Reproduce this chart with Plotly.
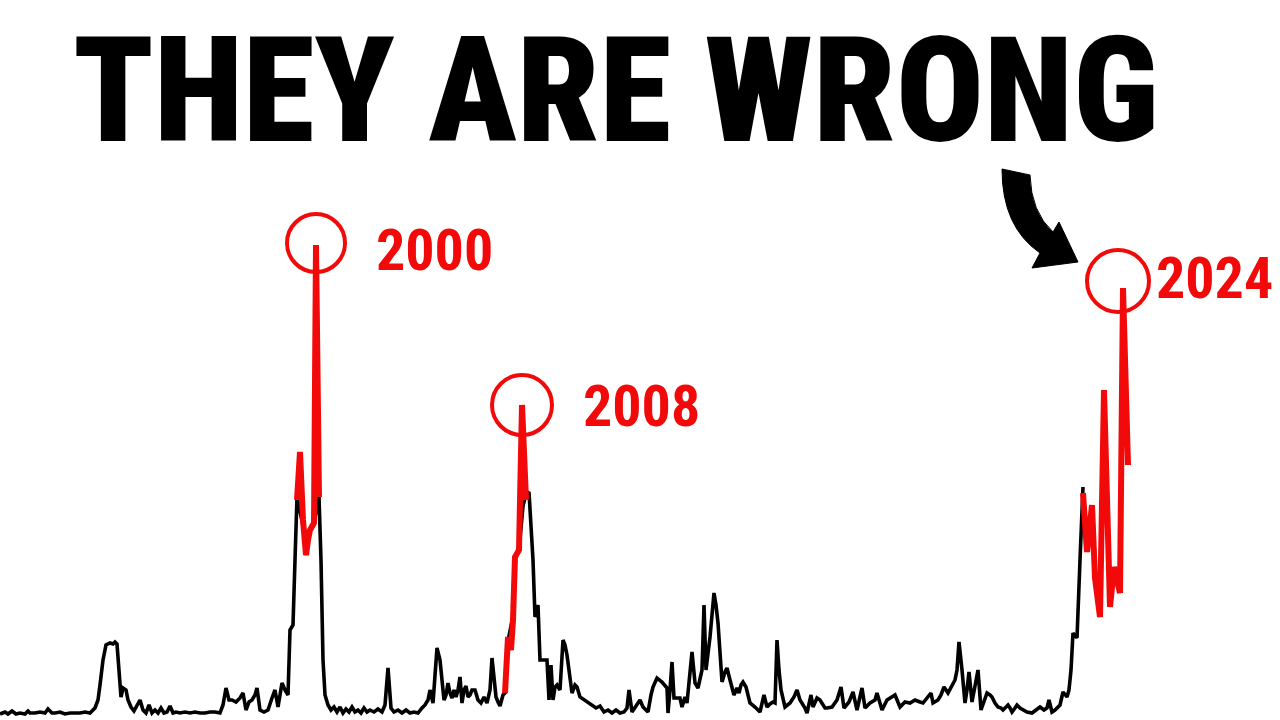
import plotly.graph_objects as go

# ---- data (period index, level) ----
black_t = [0, 5, 8, 12, 16, 20, 25, 28, 30, 35, 40, 45, 48, 52, 55, 60, 65, 70, 75, 80, 85, 90, 95, 98,
           100, 103, 106, 110, 113, 115, 117, 119, 121, 123, 126, 128, 131, 134, 137, 140, 143, 146, 149,
           152, 155, 158, 161, 164, 167, 170, 173, 176, 180, 185, 190, 195, 200, 205, 210, 215, 220, 223,
           226, 229, 232, 236, 240, 243, 246, 249, 252, 255, 257, 260, 264, 268, 272, 275, 278, 282, 285,
           288, 290, 293, 295, 297, 303, 306, 310, 314, 319, 321, 323, 325, 328, 331, 334, 337, 340, 343,
           346, 349, 352, 355, 358, 361, 364, 367, 370, 374, 378, 382, 385, 388, 391, 394, 398, 402, 406,
           410, 414, 418, 422, 425, 428, 430, 433, 435, 437, 440, 442, 444, 446, 448, 450, 452, 454, 456,
           458, 460, 462, 464, 466, 468, 470, 472, 475, 478, 481, 484, 487, 490, 492, 494, 496, 498, 500,
           503, 505, 508, 513, 515, 519, 523, 526, 529, 533, 535, 538, 540, 544, 547, 549, 551, 553, 555,
           557, 560, 563, 565, 567, 570, 572, 575, 577, 580, 584, 588, 592, 596, 600, 604, 608, 612, 616,
           620, 624, 627, 629, 632, 636, 640, 643, 646, 648, 651, 653, 657, 662, 667, 668, 670, 672, 674,
           678, 680, 682, 685, 687, 690, 692, 695, 698, 702, 704, 706, 708, 710, 714, 716, 718, 720, 722,
           725, 727, 730, 734, 737, 739, 741, 743, 746, 750, 755, 760, 764, 767, 770, 773, 775, 777, 779,
           781, 785, 790, 794, 797, 800, 802, 805, 807, 811, 813, 817, 820, 822, 825, 827, 832, 837, 841,
           844, 847, 849, 853, 857, 862, 865, 870, 875, 877, 882, 887, 890, 895, 900, 905, 910, 915, 920,
           923, 927, 931, 933, 938, 941, 944, 948, 952, 955, 957, 959, 962, 965, 967, 969, 972, 975, 978,
           981, 984, 987, 990, 992, 995, 998, 1001, 1003, 1006, 1008, 1010, 1012, 1015, 1017, 1020, 1023,
           1027, 1032, 1036, 1040, 1044, 1047, 1049, 1052, 1055, 1057, 1060, 1063, 1065, 1067, 1069, 1071,
           1073, 1075, 1077, 1080, 1083]
black_v = [2, 4, 2, 5, 2, 3, 2, 5, 3, 3, 4, 3, 7, 3, 3, 4, 2, 3, 3, 3, 4, 3, 8, 16,
           31, 56, 71, 73, 72, 74, 72, 46, 19, 28, 26, 16, 9, 5, 11, 16, 6, 3, 11,
           3, 6, 3, 8, 3, 4, 10, 3, 4, 3, 4, 3, 4, 3, 3, 4, 4, 3, 11,
           28, 16, 16, 14, 18, 23, 6, 14, 16, 21, 28, 6, 4, 6, 18, 26, 9, 33, 26,
           21, 86, 91, 156, 219, 190, 161, 186, 193, 219, 156, 56, 21, 11, 6, 9, 4, 9, 3,
           7, 4, 9, 4, 6, 3, 8, 4, 6, 4, 7, 4, 11, 48, 8, 4, 6, 3, 6,
           3, 4, 3, 8, 11, 16, 26, 13, 46, 68, 56, 36, 16, 21, 33, 23, 18, 26, 19,
           26, 39, 13, 26, 30, 19, 21, 26, 26, 16, 13, 19, 13, 26, 58, 41, 19, 14, 10,
           21, 23, 75, 100, 159, 166, 210, 222, 224, 156, 99, 111, 56, 56, 56, 16, 51, 16, 29,
           31, 26, 76, 71, 61, 36, 23, 31, 29, 19, 16, 13, 11, 8, 10, 4, 6, 3, 6,
           3, 4, 8, 26, 4, 10, 16, 9, 6, 4, 21, 29, 38, 34, 28, 3, 26, 54, 18,
           18, 18, 9, 19, 13, 46, 64, 33, 28, 46, 111, 46, 61, 79, 123, 111, 93, 66, 34,
           44, 48, 36, 21, 28, 23, 31, 34, 29, 13, 9, 4, 21, 9, 12, 14, 13, 76, 46,
           26, 9, 13, 19, 26, 16, 13, 8, 3, 21, 9, 18, 16, 13, 8, 8, 9, 16, 29,
           8, 11, 14, 24, 6, 28, 8, 13, 16, 23, 6, 16, 18, 21, 9, 14, 13, 16, 14,
           13, 18, 23, 13, 16, 21, 29, 23, 31, 36, 46, 74, 46, 13, 26, 44, 14, 31, 46,
           6, 16, 23, 21, 19, 13, 9, 8, 6, 9, 11, 8, 4, 8, 11, 8, 6,
           4, 3, 6, 9, 6, 8, 16, 4, 6, 8, 11, 24, 21, 19, 26, 46,
           83, 81, 78, 156, 229]

red2000_t = [297, 300, 303, 306, 308, 310, 314, 316, 319]
red2000_v = [216, 264, 196, 161, 176, 186, 193, 471, 219]

red2008_t = [505, 508, 511, 513, 515, 519, 522, 526]
red2008_v = [23, 79, 66, 96, 159, 166, 311, 216]

red2024_t = [1083, 1087, 1092, 1095, 1100, 1104, 1110, 1114, 1120, 1123, 1128]
red2024_v = [223, 164, 211, 138, 99, 326, 109, 149, 123, 428, 251]

labels = ["2000", "2008", "2024"]
title_text = "THEY ARE WRONG"

RED = "#f20a0a"
W, H = 1280, 720
FONT = "Roboto Condensed, Roboto, sans-serif"

fig = go.Figure()
fig.add_trace(go.Scatter(x=black_t, y=black_v, mode="lines",
                         line=dict(color="black", width=3.6), hoverinfo="skip"))

reds = [(red2000_t, red2000_v), (red2008_t, red2008_v), (red2024_t, red2024_v)]
for t, v in reds:
    fig.add_trace(go.Scatter(x=t, y=v, mode="lines",
                             line=dict(color=RED, width=6), hoverinfo="skip"))

# circle offsets (pixels relative to peak) and label shifts
circ = [(0, 2, 29), (0, 0, 30), (-5, 7, 31)]
lab_shift = [(58, -5), (59, -1), (31, 10)]
shapes = []
annotations = []
for (t, v), (dx, dy, r), (lx, ly), lab in zip(reds, circ, lab_shift, labels):
    i = v.index(max(v))
    shapes.append(dict(type="circle", xref="x", yref="y", xsizemode="pixel", ysizemode="pixel",
                       xanchor=t[i], yanchor=v[i], x0=dx - r, x1=dx + r, y0=dy - r, y1=dy + r,
                       line=dict(color=RED, width=4)))
    annotations.append(dict(x=t[i], y=v[i], xref="x", yref="y", text=lab, showarrow=False,
                            xanchor="left", yanchor="middle", xshift=lx, yshift=ly,
                            font=dict(family=FONT, size=58, color=RED, weight="bold")))

annotations.append(dict(x=616 / W, y=1 - 91 / H, xref="paper", yref="paper", text=title_text,
                        showarrow=False, xanchor="center", yanchor="middle",
                        font=dict(family=FONT, size=146, color="black", weight=900)))


def p(px, py):
    return f"{px / W:.5f},{1 - py / H:.5f}"


arrow = ("M " + p(1002, 169) + " Q " + p(1002, 227) + " " + p(1040, 253) +
         " L " + p(1032, 268) + " L " + p(1078, 262) + " L " + p(1059, 222) +
         " L " + p(1053, 232) + " Q " + p(1031, 212) + " " + p(1030, 175) + " Z")
shapes.append(dict(type="path", xref="paper", yref="paper", path=arrow,
                   fillcolor="black", line=dict(color="black", width=1)))

fig.update_layout(width=W, height=H, margin=dict(l=0, r=0, t=0, b=0),
                  paper_bgcolor="white", plot_bgcolor="white", showlegend=False,
                  xaxis=dict(range=[0, 1280], visible=False),
                  yaxis=dict(range=[-4, 716], visible=False),
                  shapes=shapes, annotations=annotations)

fig.write_html("out.html", post_script="document.body.style.margin='0';",
               config={"displayModeBar": False})
